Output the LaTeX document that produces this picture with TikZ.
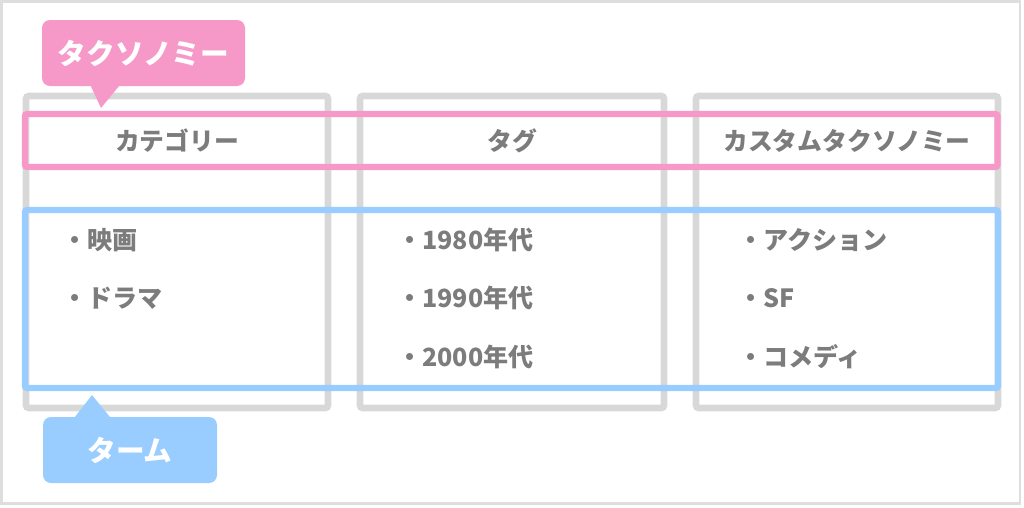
\documentclass[tikz,border=0pt]{standalone}
\usepackage{fontspec}
\setmainfont{Noto Sans CJK JP}
\definecolor{pinkc}{HTML}{F799C8}
\definecolor{bluec}{HTML}{99CCFF}
\definecolor{grayc}{HTML}{D8D8D8}
\definecolor{outerc}{HTML}{DEDEDE}
\definecolor{txtc}{HTML}{7C7C7C}
\tikzset{
  px/.style={x=0.75pt,y=-0.75pt},
  colbox/.style={draw=grayc,line width=4.9pt,rounded corners=2pt},
  pinkframe/.style={draw=pinkc,line width=4.6pt,rounded corners=1.5pt},
  blueframe/.style={draw=bluec,line width=4.6pt,rounded corners=1.5pt},
  header/.style={text=txtc,font=\bfseries\fontsize{18.6pt}{20pt}\selectfont,inner sep=0pt},
  item/.style={text=txtc,font=\bfseries\fontsize{18.8pt}{20pt}\selectfont,inner sep=0pt,anchor=west},
  tag/.style={rounded corners=6pt,inner sep=0pt,text=white,font=\bfseries\fontsize{21.5pt}{23pt}\selectfont},
}
\begin{document}
\begin{tikzpicture}[px]
\useasboundingbox (0,0) rectangle (1024,507);
\draw[outerc,line width=2.2pt] (1.5,1.5) rectangle (1020,503.5);
% column boxes
\draw[colbox] (26,96) rectangle (328,408);
\draw[colbox] (360,96) rectangle (664,408);
\draw[colbox] (696,96) rectangle (998,408);
% frames
\draw[pinkframe] (25,114) rectangle (997.5,167);
\draw[blueframe] (25,210) rectangle (998,388);
% headers
\node[header] (h1) at (177,141) {カテゴリー};
\node[header] (h2) at (512,141) {タグ};
\node[header] (h3) at (847,141) {カスタムタクソノミー};
% items
\node[item] (a1) at (62,240) {・映画};
\node[item] (a2) at (62,298) {・ドラマ};
\node[item] (b1) at (397,240) {・1980年代};
\node[item] (b2) at (397,298) {・1990年代};
\node[item] (b3) at (397,357) {・2000年代};
\node[item] (c1) at (738,240) {・アクション};
\node[item] (c2) at (738,298) {・SF};
\node[item] (c3) at (738,357) {・コメディ};
% pink tag
\fill[pinkc] (88,80) -- (124,80) -- (101,108) -- cycle;
\node[tag,fill=pinkc,minimum width=203*0.75pt,minimum height=66*0.75pt] (tx) at (143.5,53) {タクソノミー};
% blue tag
\fill[bluec] (71,422) -- (114,422) -- (92,395) -- cycle;
\node[tag,fill=bluec,minimum width=174*0.75pt,minimum height=66*0.75pt] (tm) at (130,450) {ターム};
\end{tikzpicture}
\end{document}
